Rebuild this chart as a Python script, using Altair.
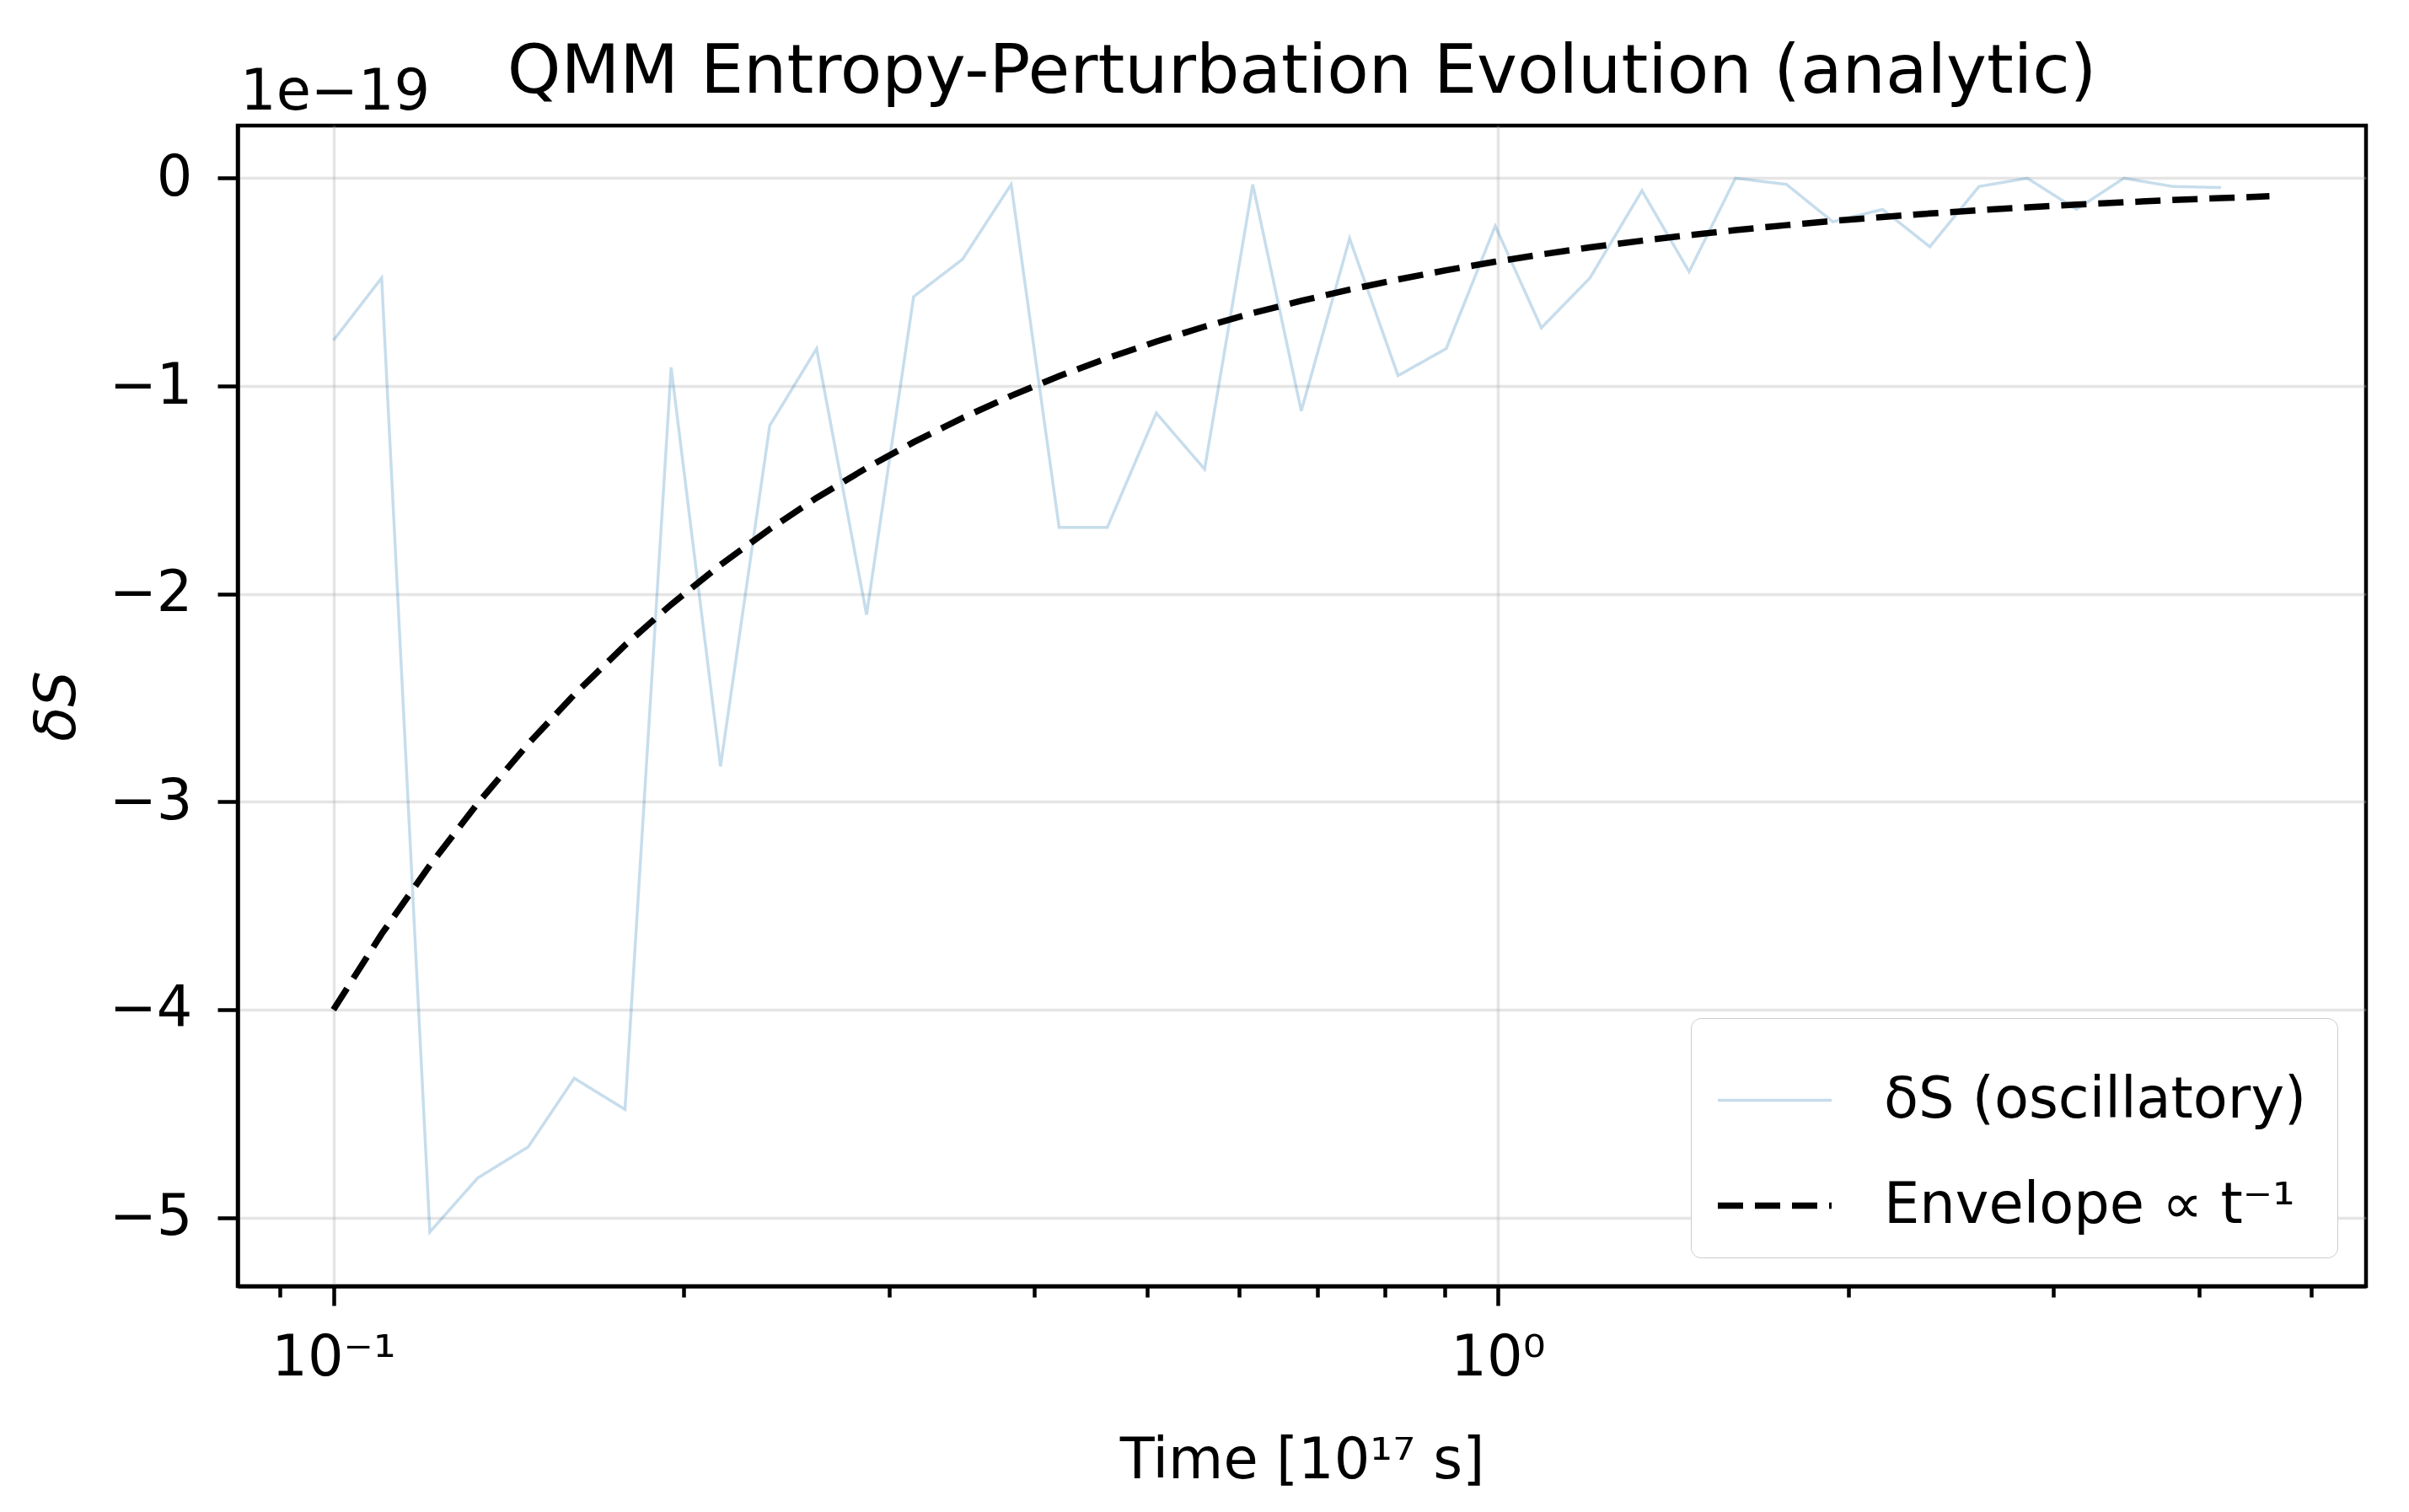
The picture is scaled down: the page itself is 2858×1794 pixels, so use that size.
import altair as alt
import pandas as pd

# ---- data (delta S in units of 1e-19, time in 1e17 s) ----
TIME = [0.100, 0.110, 0.121, 0.133, 0.147, 0.161, 0.178, 0.195, 0.215, 0.237,
        0.260, 0.287, 0.315, 0.347, 0.382, 0.420, 0.462, 0.509, 0.560, 0.616,
        0.678, 0.746, 0.821, 0.903, 0.995, 1.09, 1.20, 1.33, 1.46, 1.60,
        1.77, 1.94, 2.14, 2.35, 2.59, 2.85, 3.14, 3.45, 3.80, 4.18, 4.60]

DS_OSC = [-0.78, -0.48, -5.07, -4.81, -4.66, -4.33, -4.48, -0.91, -2.83, -1.19,
          -0.82, -2.10, -0.57, -0.39, -0.03, -1.68, -1.68, -1.13, -1.40, -0.03,
          -1.12, -0.29, -0.95, -0.82, -0.23, -0.72, -0.48, -0.06, -0.45, 0.00,
          -0.03, -0.21, -0.15, -0.33, -0.04, 0.00, -0.15, 0.00, -0.04, -0.045]

ENVELOPE = [-4.000, -3.636, -3.306, -3.008, -2.721, -2.484, -2.247, -2.051, -1.860, -1.688,
            -1.538, -1.394, -1.270, -1.153, -1.047, -0.952, -0.866, -0.786, -0.714, -0.649,
            -0.590, -0.536, -0.487, -0.443, -0.402, -0.367, -0.333, -0.301, -0.274, -0.250,
            -0.226, -0.206, -0.187, -0.170, -0.154, -0.140, -0.127, -0.116, -0.105, -0.096,
            -0.087]

SERIES = ["δS (oscillatory)", "Envelope  ∝ t⁻¹"]
X_TICKS = [0.09, 0.1, 0.2, 0.3, 0.4, 0.5, 0.6, 0.7, 0.8, 0.9, 1, 2, 3, 4, 5]
Y_TICKS = [-5, -4, -3, -2, -1, 0]
TITLE = "QMM Entropy-Perturbation Evolution (analytic)"
OFFSET_LABEL = "1e−19"

rows = []
for t, v in zip(TIME[:len(DS_OSC)], DS_OSC):
    rows.append({"t": t, "v": v, "series": SERIES[0]})
for t, v in zip(TIME, ENVELOPE):
    rows.append({"t": t, "v": v, "series": SERIES[1]})
df = pd.DataFrame(rows)

FONT = "DejaVu Sans"
FS = 67
W, H = 2525, 1377

x_enc = alt.X(
    "t:Q",
    scale=alt.Scale(type="log", domain=[0.08275, 5.568], nice=False),
    axis=alt.Axis(
        values=X_TICKS,
        title="Time [10¹⁷ s]",
        labelExpr="datum.value === 0.1 ? '10⁻¹' : (datum.value === 1 ? '10⁰' : '')",
        tickSize={"condition": {"test": "datum.value === 0.1 || datum.value === 1", "value": 23}, "value": 13},
        gridOpacity={"condition": {"test": "datum.value === 0.1 || datum.value === 1", "value": 0.33}, "value": 0},
        labelPadding=29,
        titlePadding=56,
        labelFlush=False,
        labelOverlap=False,
    ),
)
y_enc = alt.Y(
    "v:Q",
    scale=alt.Scale(domain=[-5.33, 0.253], nice=False, zero=False),
    axis=alt.Axis(
        values=Y_TICKS,
        format="d",
        title="δS",
        titleFontStyle="italic",
        tickSize=24,
        labelPadding=30,
        titlePadding=27,
        gridOpacity=0.33,
    ),
)

legend = alt.Legend(
    title=None,
    orient="bottom-right",
    offset=34,
    symbolType="stroke",
    symbolSize=18225,
    labelFontSize=FS,
    labelFont=FONT,
    labelColor="#000000",
    labelLimit=2000,
    labelOffset=58,
    padding=28,
    rowPadding=20,
    strokeColor="#cccccc",
    fillColor="#ffffff",
    cornerRadius=12,
)

base = alt.Chart(df).encode(
    x=x_enc,
    y=y_enc,
    color=alt.Color("series:N", scale=alt.Scale(domain=SERIES, range=["#1f77b4", "#000000"]), legend=legend),
    opacity=alt.Opacity("series:N", scale=alt.Scale(domain=SERIES, range=[0.25, 1.0])),
    strokeDash=alt.StrokeDash("series:N", scale=alt.Scale(domain=SERIES, range=[[1, 0], [30, 14]])),
    strokeWidth=alt.StrokeWidth("series:N", scale=alt.Scale(domain=SERIES, range=[3.5, 7.5])),
)

osc = base.transform_filter(alt.datum.series == SERIES[0]).mark_line()
env = base.transform_filter(alt.datum.series == SERIES[1]).mark_line()

offset_text = alt.Chart(pd.DataFrame({"label": [OFFSET_LABEL]})).mark_text(
    align="left", baseline="alphabetic", fontSize=FS, font=FONT, color="#000000"
).encode(x=alt.value(3), y=alt.value(-19), text="label:N")

title_text = alt.Chart(pd.DataFrame({"label": [TITLE]})).mark_text(
    align="center", baseline="alphabetic", fontSize=81, font=FONT, color="#000000"
).encode(x=alt.value(W / 2), y=alt.value(-39), text="label:N")

chart = alt.layer(osc, env, offset_text, title_text).properties(
    width=W,
    height=H,
    padding={"left": 274, "top": 141, "right": 43, "bottom": 260},
    autosize=alt.AutoSizeParams(type="none"),
    background="white",
).configure_view(
    stroke="#000000", strokeWidth=4.5
).configure_axis(
    domainColor="#000000",
    domainWidth=4.5,
    tickColor="#000000",
    tickWidth=4.5,
    labelFont=FONT,
    labelFontSize=FS,
    labelColor="#000000",
    titleFont=FONT,
    titleFontSize=FS,
    titleFontWeight="normal",
    titleColor="#000000",
    gridColor="#b0b0b0",
    gridWidth=3.5,
)

chart.save("out.html", embed_options={"renderer": "svg", "actions": False})
